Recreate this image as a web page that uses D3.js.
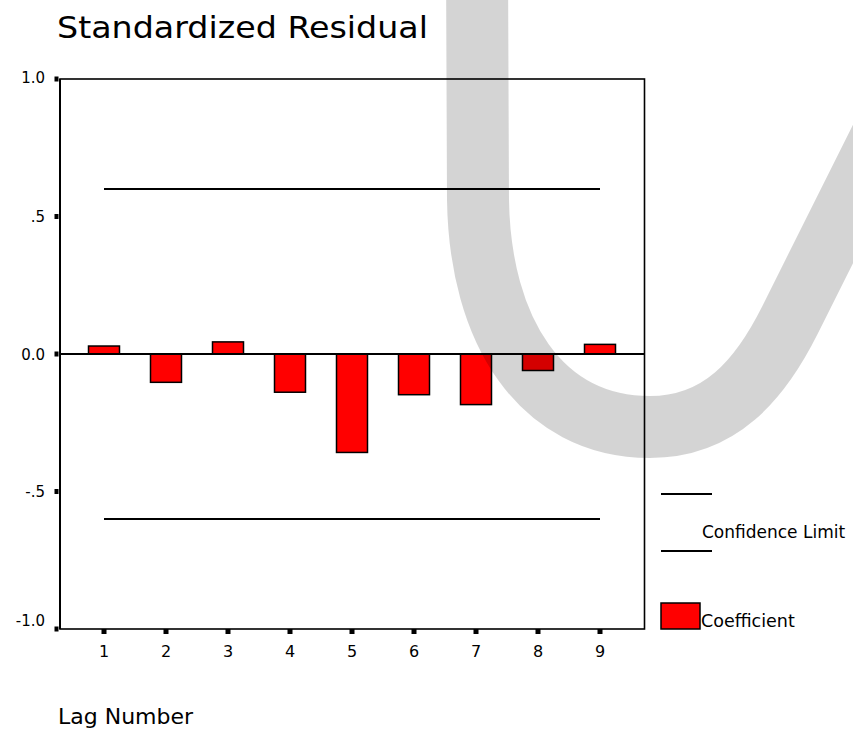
<!DOCTYPE html>
<html>
<head>
<meta charset="utf-8">
<script src="https://cdn.jsdelivr.net/npm/d3@7"></script>
<style>
  html, body { margin: 0; padding: 0; background: #fff; }
  svg { display: block; font-family: "DejaVu Sans", Verdana, sans-serif; }
</style>
</head>
<body>
<svg id="chart" width="853" height="731"></svg>
<script>
// Autocorrelation of the standardized residual, lags 1-9
const lags = [1, 2, 3, 4, 5, 6, 7, 8, 9];
const coefficients = [0.029, -0.103, 0.044, -0.139, -0.358, -0.148, -0.184, -0.060, 0.035];
const upperLimit = [0.60, 0.60, 0.60, 0.60, 0.60, 0.60, 0.60, 0.60, 0.60];
const lowerLimit = [-0.60, -0.60, -0.60, -0.60, -0.60, -0.60, -0.60, -0.60, -0.60];
const yTicks = [1.0, 0.5, 0.0, -0.5, -1.0];
const yTickLabels = ["1.0", ".5", "0.0", "-.5", "-1.0"];

const svg = d3.select("#chart");

const plot = { left: 60, right: 644.5, top: 79, bottom: 629 };

const x = d3.scaleLinear().domain([1, 9]).range([104, 600]);
const y = d3.scaleLinear().domain([-1, 1]).range([plot.bottom, plot.top]);
const barWidth = 31;

// Title
svg.append("text")
  .attr("x", 57).attr("y", 38)
  .attr("font-size", 31)
  .attr("textLength", 371).attr("lengthAdjust", "spacingAndGlyphs")
  .attr("fill", "#000")
  .text("Standardized Residual");

// Frame
svg.append("rect")
  .attr("x", plot.left).attr("y", plot.top)
  .attr("width", plot.right - plot.left).attr("height", plot.bottom - plot.top)
  .attr("fill", "none").attr("stroke", "#000").attr("stroke-width", 1.6);
svg.append("line")
  .attr("x1", plot.left).attr("x2", plot.left)
  .attr("y1", plot.top).attr("y2", plot.bottom)
  .attr("stroke", "#000").attr("stroke-width", 2);

// Y axis ticks (small square marks) and labels
const yAxis = svg.append("g");
yAxis.selectAll("rect.tick").data(yTicks).join("rect")
  .attr("class", "tick")
  .attr("x", 54.5).attr("y", d => y(d) - 2.5)
  .attr("width", 4).attr("height", 5)
  .attr("fill", "#000");
yAxis.selectAll("text").data(yTicks).join("text")
  .attr("x", 45)
  .attr("y", (d, i) => y(d) + 5.5 - (d === -1 ? 9 : (d === 1 ? 2 : 0)))
  .attr("text-anchor", "end")
  .attr("font-size", 15)
  .attr("fill", "#000")
  .text((d, i) => yTickLabels[i]);

// X axis ticks and labels
const xAxis = svg.append("g");
xAxis.selectAll("rect.tick").data(lags).join("rect")
  .attr("class", "tick")
  .attr("x", d => x(d) - 2.5).attr("y", plot.bottom)
  .attr("width", 5).attr("height", 5)
  .attr("fill", "#000");
xAxis.selectAll("text").data(lags).join("text")
  .attr("x", d => x(d)).attr("y", 657)
  .attr("text-anchor", "middle")
  .attr("font-size", 16)
  .attr("fill", "#000")
  .text(d => d);

// Axis title
svg.append("text")
  .attr("x", 58).attr("y", 724)
  .attr("font-size", 22)
  .attr("fill", "#000")
  .text("Lag Number");

// Confidence limits
const limitLine = d3.line().x((d, i) => x(lags[i])).y(d => y(d));
[upperLimit, lowerLimit].forEach(series => {
  svg.append("path")
    .attr("d", limitLine(series))
    .attr("fill", "none").attr("stroke", "#000").attr("stroke-width", 1.8);
});

// Coefficient bars
svg.append("g").selectAll("rect").data(coefficients).join("rect")
  .attr("x", (d, i) => x(lags[i]) - barWidth / 2)
  .attr("y", d => y(Math.max(0, d)))
  .attr("width", barWidth)
  .attr("height", d => Math.abs(y(d) - y(0)))
  .attr("fill", "#ff0000").attr("stroke", "#000").attr("stroke-width", 1.5);

// Zero reference line
svg.append("line")
  .attr("x1", plot.left).attr("x2", plot.right)
  .attr("y1", y(0)).attr("y2", y(0))
  .attr("stroke", "#000").attr("stroke-width", 1.8);

// Legend
const legend = svg.append("g");
[494, 551].forEach(ly => {
  legend.append("line")
    .attr("x1", 661).attr("x2", 712).attr("y1", ly).attr("y2", ly)
    .attr("stroke", "#000").attr("stroke-width", 1.8);
});
legend.append("text")
  .attr("x", 702).attr("y", 538)
  .attr("font-size", 17)
  .attr("fill", "#000")
  .text("Confidence Limit");
legend.append("rect")
  .attr("x", 661).attr("y", 603).attr("width", 39).attr("height", 26)
  .attr("fill", "#ff0000").attr("stroke", "#000").attr("stroke-width", 1.5);
legend.append("text")
  .attr("x", 701).attr("y", 627)
  .attr("font-size", 17.5)
  .attr("fill", "#000")
  .text("Coefficient");

// Translucent swoosh overlay (decorative stroke)
const sw = d3.path();
sw.moveTo(477, -40);
sw.lineTo(478, 200);
sw.bezierCurveTo(480, 330, 540, 427, 650, 427);
sw.bezierCurveTo(720, 427, 760, 380, 790, 320);
sw.lineTo(897, 106);
svg.append("path")
  .attr("d", sw.toString())
  .attr("fill", "none")
  .attr("stroke", "#000").attr("stroke-opacity", 0.17)
  .attr("stroke-width", 62)
  .attr("stroke-linecap", "round");
</script>
</body>
</html>
